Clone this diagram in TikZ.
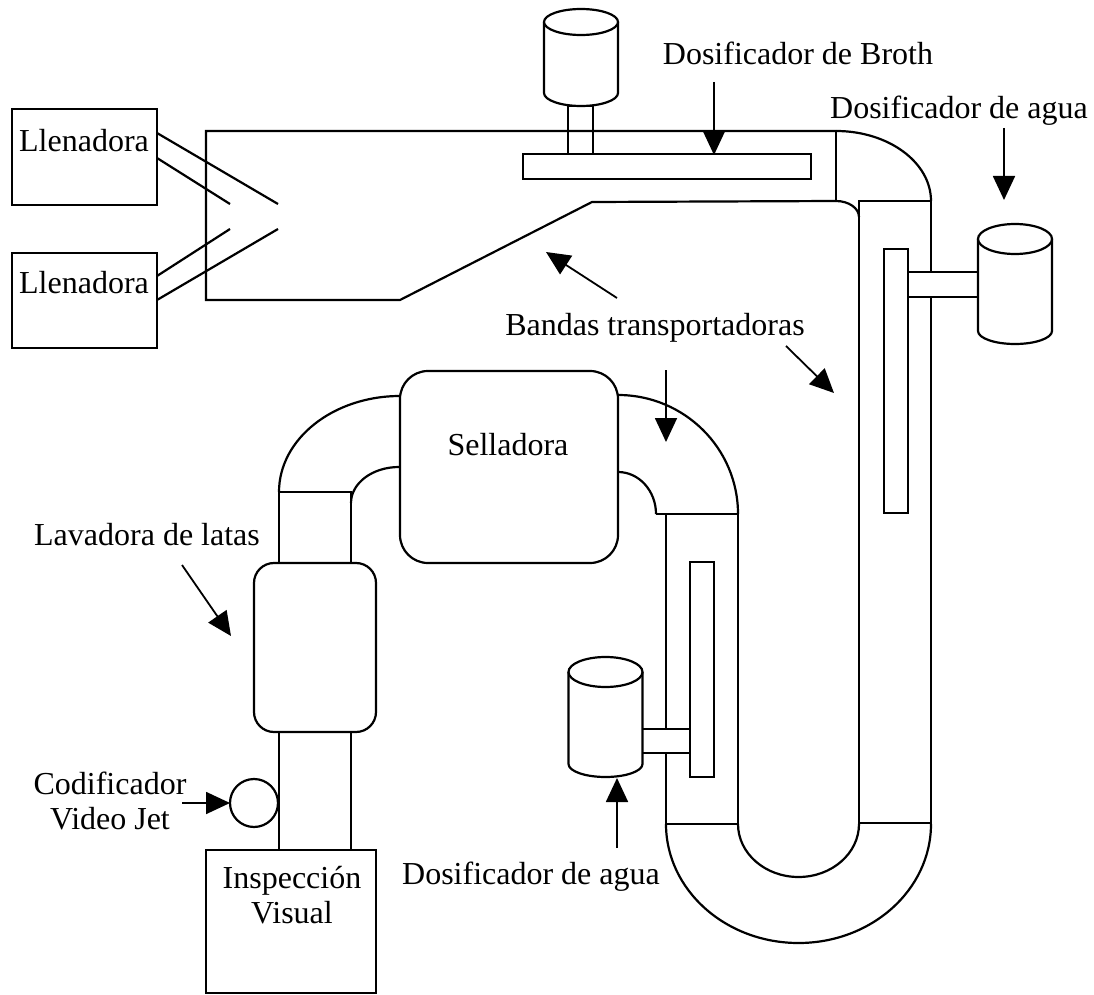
\documentclass[tikz,border=0pt]{standalone}
\usepackage{fontspec}
\setmainfont{Liberation Serif}
\usetikzlibrary{arrows.meta}

\begin{document}
\begin{tikzpicture}[
    x=0.5pt, y=-0.5pt,
    line width=1.1pt,
    >={Triangle[length=12pt,width=11pt]},
    pointer/.style={->, line width=0.9pt}, % Style for the label arrows
    part/.style={draw, rectangle, inner sep=0pt, outer sep=0pt}, % Style for boxes and belts
    roundpart/.style={part, rounded corners=#1}, % Style for machines
    txt/.style={inner sep=0pt, align=center, font=\fontsize{16}{17.8}\selectfont} % Style for labels
]

    \useasboundingbox (0,0) rectangle (1094,995);

    % Filler boxes
    \node[part, minimum width=72.5pt, minimum height=48pt] (llenA) at (84.5,157) {};
    \node[part, minimum width=72.5pt, minimum height=47.5pt] (llenB) at (84.5,300.5) {};
    \node[txt] (llenAtxt) at (84,141) {Llenadora};
    \node[txt] (llenBtxt) at (84,283) {Llenadora};

    % First belt
    \coordinate (beltTop) at (836,131);
    \coordinate (beltLow) at (836,201);
    \draw (beltTop) -- (206,131) -- (206,300) -- (400,300) -- (592,202) -- (beltLow);
    \draw (beltTop) -- (beltLow);

    % Feed lines from the fillers
    \coordinate (feedA) at (278,204);
    \coordinate (feedB) at (230,204);
    \coordinate (feedC) at (230,229);
    \coordinate (feedD) at (278,229);
    \draw (llenA.north east) ++(0,24) -- (feedA);
    \draw (llenA.north east) ++(0,49) -- (feedB);
    \draw (llenB.north east) ++(0,23) -- (feedC);
    \draw (llenB.north east) ++(0,47) -- (feedD);

    % Long belts and the U turn
    \node[part, minimum width=36pt, minimum height=311pt] (beltR) at (895,512) {};
    \node[part, minimum width=36pt, minimum height=155pt] (beltM) at (702,669) {};
    \draw (beltTop) arc[start angle=-90, end angle=0, x radius=95, y radius=70];
    \draw (beltLow) arc[start angle=-90, end angle=0, x radius=23, y radius=16];
    \draw (beltM.south west) arc[start angle=180, end angle=0, x radius=132.5, y radius=119];
    \draw (beltM.south east) arc[start angle=180, end angle=0, x radius=60.5, y radius=53];

    % Sealer and its bends
    \node[roundpart=14pt, minimum width=109pt, minimum height=96pt] (sella) at (509,467) {};
    \node[txt] (sellatxt) at (508,445) {Selladora};
    \node[part, minimum width=36pt, minimum height=35.5pt] (tubeA) at (315,527.5) {};
    \coordinate (bendA) at (351,503);
    \coordinate (bendB) at (618,472);
    \coordinate (bendC) at (656,514);
    \draw (tubeA.north west) arc[start angle=180, end angle=270, x radius=121, y radius=96];
    \draw (bendA) arc[start angle=180, end angle=270, x radius=48, y radius=36];
    \draw (beltM.north east) arc[start angle=0, end angle=-90, x radius=120, y radius=119];
    \draw (bendB) arc[start angle=-90, end angle=0, x radius=38, y radius=42];
    \draw (bendC) -- (beltM.north west);

    % Can washer, coder and inspection
    \node[part, minimum width=36pt, minimum height=59pt] (tubeB) at (315,791) {};
    \node[roundpart=10pt, fill=white, minimum width=61pt, minimum height=84.5pt] (lava) at (315,647.5) {};
    \node[part, minimum width=85pt, minimum height=71.5pt] (insp) at (291,921.5) {};
    \node[part, circle, minimum size=24pt] (coder) at (254,803) {};
    \node[txt] (insptxt) at (292,895) {Inspección\\Visual};
    \node[txt] (codertxt) at (110,801) {Codificador\\Video Jet};
    \node[txt] (lavatxt) at (147,535) {Lavadora de latas};

    % Dosing bars and necks
    \node[part, minimum width=144pt, minimum height=12.5pt] (barA) at (667,166.5) {};
    \node[part, minimum width=12pt, minimum height=132pt] (barB) at (896,381) {};
    \node[part, minimum width=12pt, minimum height=107.5pt] (barC) at (702,669.5) {};
    \node[part, minimum width=12.5pt, minimum height=24pt] (neckA) at (580.5,130) {};
    \node[part, fill=white, minimum width=35.5pt, minimum height=12.5pt] (neckB) at (943.5,284.5) {};
    \node[part, fill=white, minimum width=24pt, minimum height=12pt] (neckC) at (666,741) {};

    % Dosing tanks: centre/lid height/lid radius/body bottom
    \foreach \cx/\lid/\lidr/\low in {581/22/13/106, 1015/239/15/344, 605.5/672/15/777} {
        \draw[fill=white] (\cx-37,\lid) -- (\cx-37,\low-13)
            arc[start angle=180, end angle=0, x radius=37, y radius=13] -- (\cx+37,\lid);
        \draw[fill=white] (\cx,\lid) ellipse[x radius=37, y radius=\lidr];
    }

    % Labels and their arrows
    \node[txt] (brothtxt) at (798,53) {Dosificador de Broth};
    \node[txt] (aguaAtxt) at (959,111) {Dosificador de agua};
    \node[txt] (aguaBtxt) at (531,877) {Dosificador de agua};
    \node[txt] (bandastxt) at (655,328) {Bandas transportadoras};

    \coordinate (brothA) at (714,82);
    \coordinate (brothB) at (714,155);
    \coordinate (aguaA) at (1004,128);
    \coordinate (aguaB) at (1004,200);
    \coordinate (bandaA) at (617,298);
    \coordinate (bandaB) at (546,252);
    \coordinate (bandaC) at (786,346);
    \coordinate (bandaD) at (834,393);
    \coordinate (bandaE) at (666,370);
    \coordinate (bandaF) at (666,442);
    \coordinate (lavaA) at (182,565);
    \coordinate (lavaB) at (231,636);
    \coordinate (aguaC) at (617,848);
    \coordinate (aguaD) at (617,778);
    \coordinate (coderA) at (182,803);

    \draw[pointer] (brothA) -- (brothB);
    \draw[pointer] (aguaA) -- (aguaB);
    \draw[pointer] (bandaA) -- (bandaB);
    \draw[pointer] (bandaC) -- (bandaD);
    \draw[pointer] (bandaE) -- (bandaF);
    \draw[pointer] (lavaA) -- (lavaB);
    \draw[pointer] (aguaC) -- (aguaD);
    \draw[pointer] (coderA) -- (coder);

\end{tikzpicture}
\end{document}
